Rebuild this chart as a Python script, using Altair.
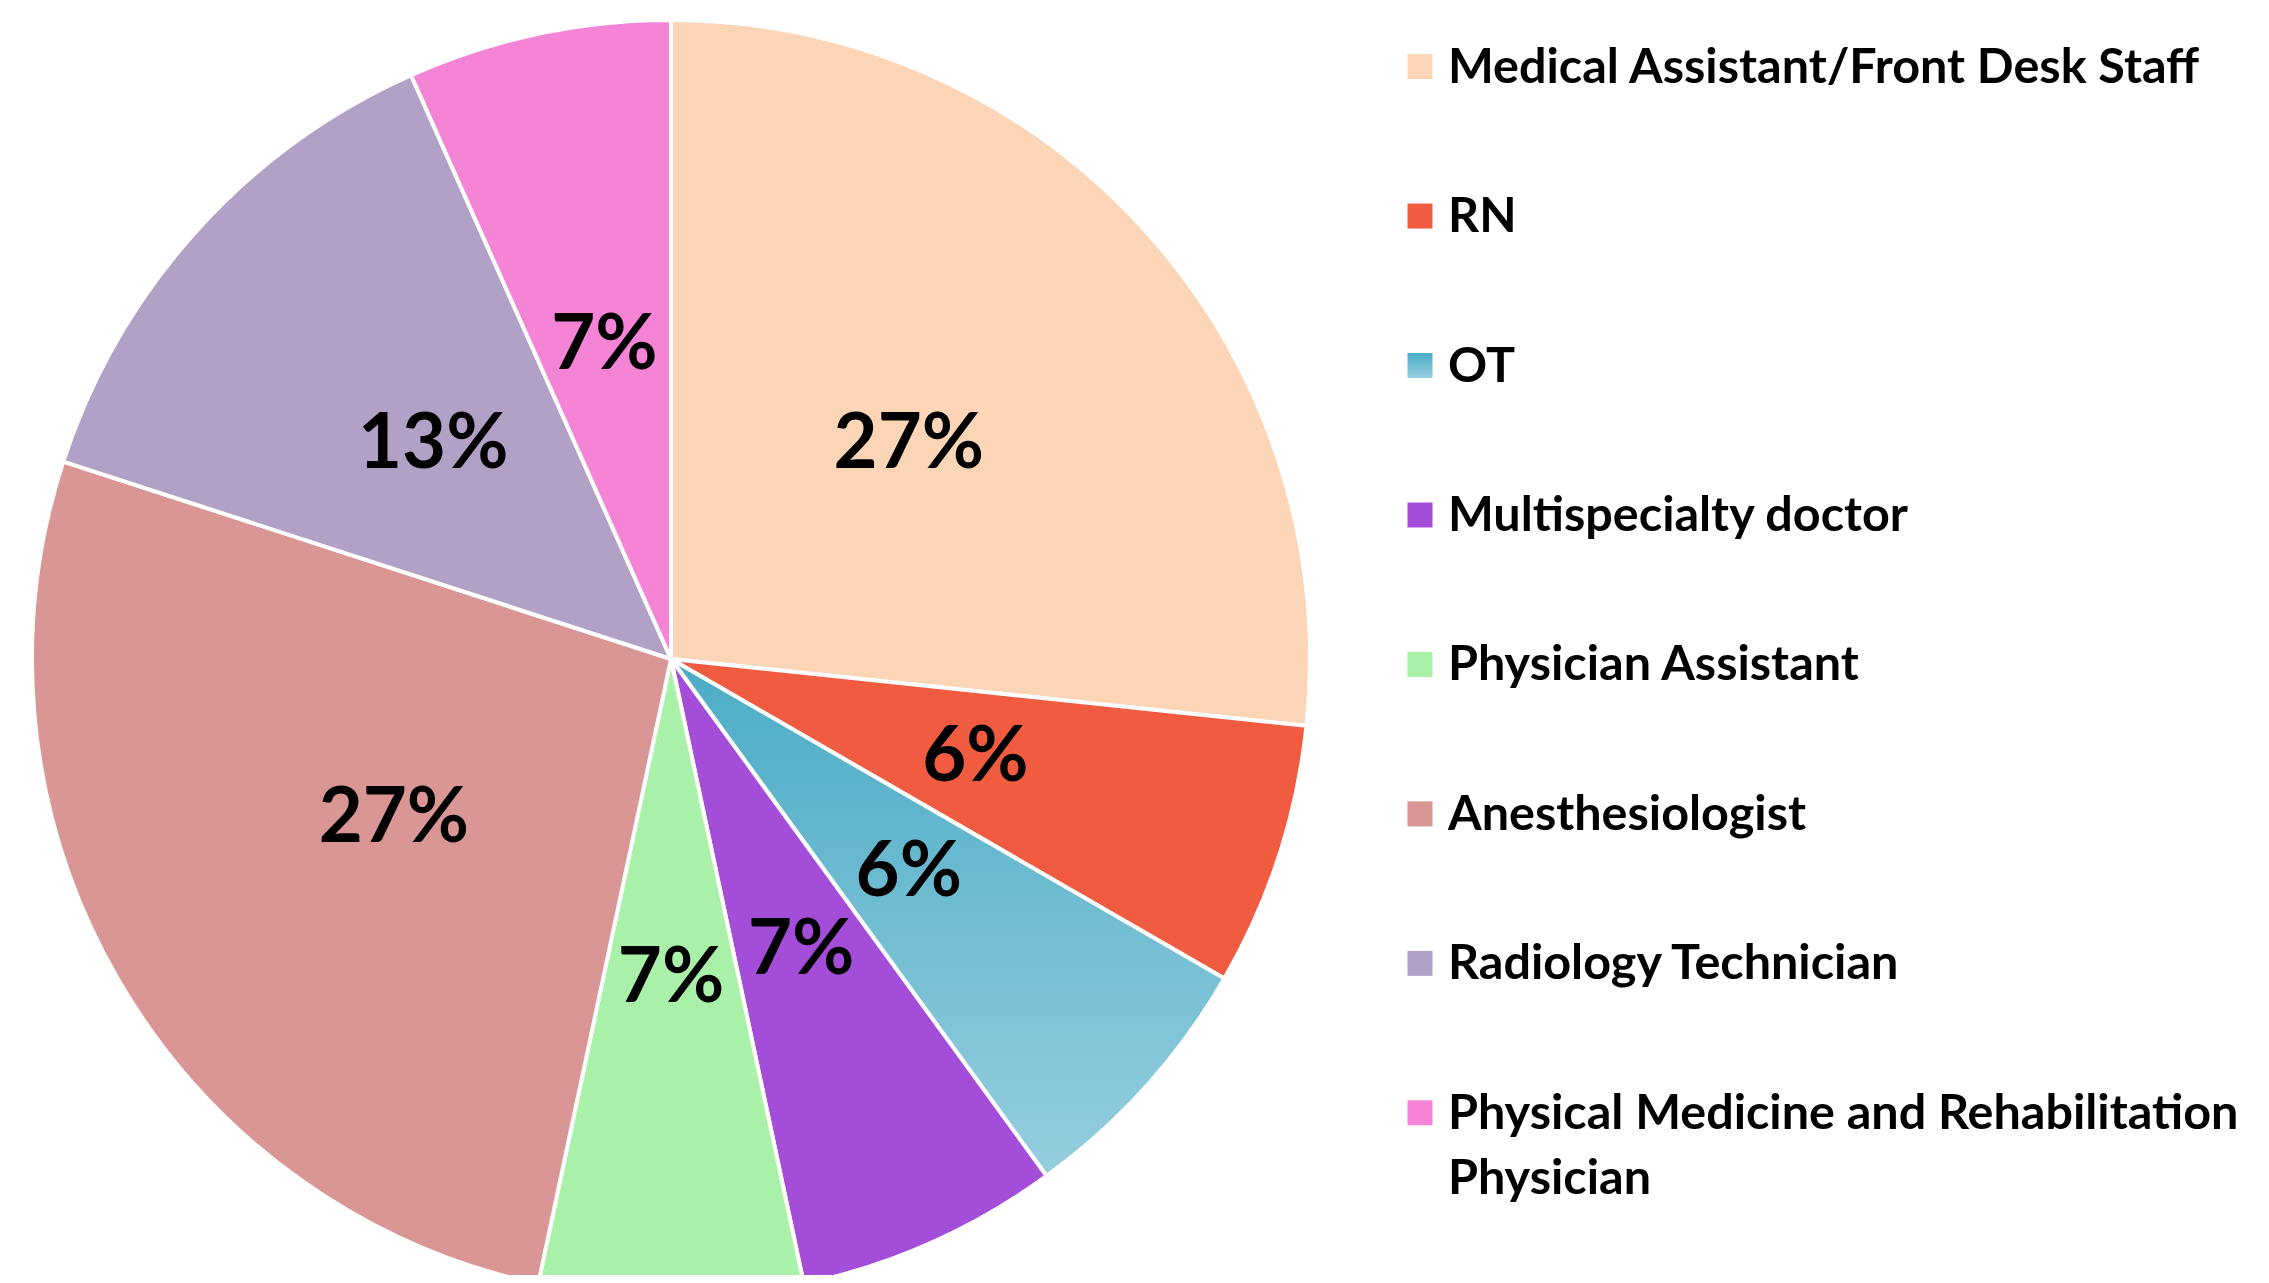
import altair as alt
import pandas as pd

categories = [
    "Medical Assistant/Front Desk Staff",
    "RN",
    "OT",
    "Multispecialty doctor",
    "Physician Assistant",
    "Anesthesiologist",
    "Radiology Technician",
    "Physical Medicine and Rehabilitation Physician",
]
counts = [4, 1, 1, 1, 1, 4, 2, 1]
pct_labels = ["27%", "6%", "6%", "7%", "7%", "27%", "13%", "7%"]
legend_labels = [
    "Medical Assistant/Front Desk Staff",
    "RN",
    "OT",
    "Multispecialty doctor",
    "Physician Assistant",
    "Anesthesiologist",
    "Radiology Technician",
    "Physical Medicine and Rehabilitation\nPhysician",
]
colors = ["#FBD5B5", "#F15C41", "#6FBDD3", "#A34DD9", "#A9F1A9", "#D99694", "#B2A1C7", "#F584D6"]
ot_gradient = ["#4BACC6", "#95CEDE"]

df = pd.DataFrame({
    "cat": categories,
    "count": counts,
    "pct": pct_labels,
    "legend": legend_labels,
    "idx": list(range(len(categories))),
})

W, H = 2253, 1267
CX, CY, R = 663, 651, 639

grad = {
    "gradient": "linear", "x1": 0, "y1": 0, "x2": 0, "y2": 1,
    "stops": [{"offset": 0, "color": ot_gradient[0]}, {"offset": 1, "color": ot_gradient[1]}],
}

color_enc = alt.condition(
    alt.datum.cat == "OT",
    alt.value(grad),
    alt.Color("cat:N", scale=alt.Scale(domain=categories, range=colors), legend=None),
)

base = alt.Chart(df).encode(
    theta=alt.Theta("count:Q", stack=True),
    order=alt.Order("idx:Q"),
)

pie = base.mark_arc(outerRadius=R, stroke="white", strokeWidth=4).encode(
    x=alt.value(CX), y=alt.value(CY), color=color_enc
)

labels = base.mark_text(
    radius=320, font="Lato", fontWeight="bold", fontSize=76, color="black",
    align="center", baseline="middle",
).encode(x=alt.value(CX), y=alt.value(CY), text="pct:N")

leg_y = alt.Y(
    "cat:N",
    sort=categories,
    scale=alt.Scale(type="point", domain=categories, range=[58.6, 1104.8], padding=0),
    axis=None,
)

squares = alt.Chart(df).mark_square(size=625, opacity=1, filled=True).encode(
    x=alt.value(1412), y=leg_y, color=color_enc
)

texts = alt.Chart(df).mark_text(
    align="left", baseline="alphabetic", dy=16, font="Lato", fontWeight="bold",
    fontSize=48.5, lineBreak="\n", lineHeight=65, color="black",
).encode(x=alt.value(1440), y=leg_y, text="legend:N")

chart = alt.layer(pie, labels, squares, texts).properties(
    width=W, height=H, autosize="none", padding=0
).configure_view(stroke=None)

chart.save("out.html", embed_options={"renderer": "svg", "actions": False})
